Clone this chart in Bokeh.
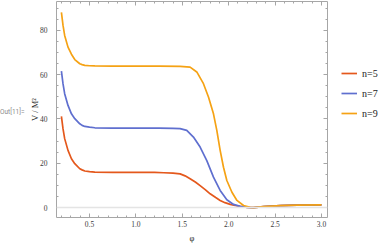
from bokeh.plotting import figure
from bokeh.models import (FixedTicker, LinearAxis, Span, Legend, LegendItem, Range1d, Div)
from bokeh.layouts import row
from bokeh.embed import file_html
from bokeh.resources import INLINE

# data
phi_5 = [0.197, 0.214, 0.232, 0.268, 0.305, 0.341, 0.395, 0.42, 0.449, 0.5, 0.557, 0.75, 1.0,
         1.2, 1.3, 1.4, 1.476, 1.53, 1.584, 1.64, 1.692, 1.75, 1.80, 1.86, 1.908, 1.96, 2.016,
         2.07, 2.124, 2.20, 2.268, 2.376, 2.557, 2.737, 3.0]
V_5 = [41.1, 35.6, 31.1, 25.8, 22.0, 19.8, 17.5, 17.0, 16.5, 16.2, 16.0, 15.9, 15.9,
       15.9, 15.7, 15.5, 15.2, 14.3, 13.0, 11.5, 9.9, 8.0, 6.2, 4.5, 3.2, 2.2, 1.4,
       0.9, 0.5, 0.1, -0.05, 0.45, 0.9, 1.05, 1.2]

phi_7 = [0.197, 0.214, 0.232, 0.268, 0.305, 0.341, 0.395, 0.42, 0.449, 0.5, 0.557, 0.75, 1.0,
         1.25, 1.4, 1.476, 1.548, 1.62, 1.692, 1.764, 1.836, 1.908, 1.98, 2.052, 2.124, 2.20,
         2.268, 2.376, 2.557, 2.737, 3.0]
V_7 = [61.6, 55.9, 51.4, 46.1, 42.3, 40.1, 37.8, 37.1, 36.6, 36.3, 36.0, 35.8, 35.8,
       35.8, 35.7, 35.6, 34.8, 31.8, 27.3, 21.2, 13.7, 7.7, 3.5, 1.4, 0.5, 0.1,
       -0.05, 0.45, 0.9, 1.05, 1.2]

phi_9 = [0.197, 0.214, 0.232, 0.268, 0.305, 0.341, 0.395, 0.42, 0.449, 0.5, 0.557, 0.75, 1.0,
         1.25, 1.476, 1.584, 1.656, 1.728, 1.782, 1.836, 1.872, 1.908, 1.944, 1.98, 2.035,
         2.089, 2.16, 2.232, 2.268, 2.376, 2.557, 2.737, 3.0]
V_9 = [88.1, 82.3, 77.7, 72.4, 69.2, 66.8, 64.9, 64.5, 64.2, 64.0, 63.9, 63.8, 63.8,
       63.8, 63.7, 63.4, 61.2, 55.9, 49.9, 42.3, 34.8, 25.8, 18.2, 12.2, 6.9,
       3.2, 0.9, 0.1, -0.05, 0.45, 0.9, 1.05, 1.2]

series_labels = ["n=5", "n=7", "n=9"]
colors = ["#E4581C", "#5F6FCF", "#F5A214"]

x_major = [0.5, 1.0, 1.5, 2.0, 2.5, 3.0]
x_minor = [round(0.2 + 0.1 * i, 1) for i in range(29)]
y_major = [0, 20, 40, 60, 80]
y_minor = [5 * i for i in range(19)]

p = figure(frame_width=271, frame_height=216, output_backend="svg", toolbar_location=None,
           x_range=Range1d(0.144, 3.065), y_range=Range1d(-4.5, 93.0),
           min_border_left=32, min_border_right=13, min_border_top=1, min_border_bottom=28,
           background_fill_color="white", border_fill_alpha=0)
p.xgrid.visible = False
p.ygrid.visible = False
p.outline_line_color = None

frame_col = "#a6a6a6"
tick_col = "#a6a6a6"
lab_col = "#3a3a3a"
serif = "Liberation Serif"

def style_axis(ax):
    ax.axis_line_color = frame_col
    ax.axis_line_width = 1
    ax.major_tick_line_color = tick_col
    ax.minor_tick_line_color = tick_col
    ax.major_tick_in = 4
    ax.major_tick_out = 0
    ax.minor_tick_in = 2
    ax.minor_tick_out = 0
    ax.major_label_text_font = serif
    ax.major_label_text_color = lab_col
    ax.major_label_text_font_size = "7.5px"
    ax.major_label_standoff = 3
    ax.axis_label_text_font = serif
    ax.axis_label_text_font_style = "normal"
    ax.axis_label_text_color = "#222222"
    ax.axis_label_text_font_size = "8.5px"

p.xaxis.ticker = FixedTicker(ticks=x_major, minor_ticks=x_minor)
p.yaxis.ticker = FixedTicker(ticks=y_major, minor_ticks=y_minor)
p.xaxis.axis_label = "φ"
p.yaxis.axis_label = "V / M²"
p.xaxis.axis_label_standoff = 3
style_axis(p.xaxis[0])
style_axis(p.yaxis[0])
p.yaxis.major_label_standoff = 9
p.yaxis.axis_label_standoff = -3
p.xaxis.major_label_overrides = {v: f"{v:.1f}" for v in x_major}

top = LinearAxis(ticker=FixedTicker(ticks=x_major, minor_ticks=x_minor))
right = LinearAxis(ticker=FixedTicker(ticks=y_major, minor_ticks=y_minor))
style_axis(top)
style_axis(right)
for ax, ticks in ((top, x_major), (right, y_major)):
    ax.major_label_overrides = {v: "" for v in ticks}
    ax.major_label_standoff = 0
p.add_layout(top, "above")
p.add_layout(right, "right")

p.add_layout(Span(location=0, dimension="width", line_color="#e4e4e4", line_width=1.6))

for xs, ys, c in zip([phi_5, phi_7, phi_9], [V_5, V_7, V_9], colors):
    p.line(xs, ys, line_color=c, line_width=1.7)

# legend panel: a bare figure holding the legend (its lines lie outside its own view)
lf = figure(width=47, height=245, output_backend="svg", toolbar_location=None,
            x_range=Range1d(10, 11), y_range=Range1d(200, 201),
            min_border=0, background_fill_alpha=0, border_fill_alpha=0)
lf.axis.visible = False
lf.grid.visible = False
lf.outline_line_color = None
leg_r = []
for xs, ys, c in zip([phi_5, phi_7, phi_9], [V_5, V_7, V_9], colors):
    leg_r.append(lf.line(xs, ys, line_color=c, line_width=1.7))

legend = Legend(items=[LegendItem(label=l, renderers=[r]) for l, r in zip(series_labels, leg_r)],
                location=(1, 94), orientation="vertical",
                glyph_width=16, glyph_height=20, label_height=20, spacing=0,
                label_standoff=5, padding=0, margin=0,
                background_fill_alpha=0, border_line_color=None,
                label_text_font=serif, label_text_font_size="10px", label_text_color="#222222")
lf.add_layout(legend, "center")

out_div = Div(text="Out[11]=", width=24, height=20, margin=(108, 0, 0, 0),
              styles={"font-family": "Roboto", "font-size": "6.5px", "color": "#8a8a8a",
                      "white-space": "nowrap", "overflow": "visible"})

layout = row(out_div, p, lf, spacing=0)
open("out.html", "w").write(file_html(layout, INLINE))
